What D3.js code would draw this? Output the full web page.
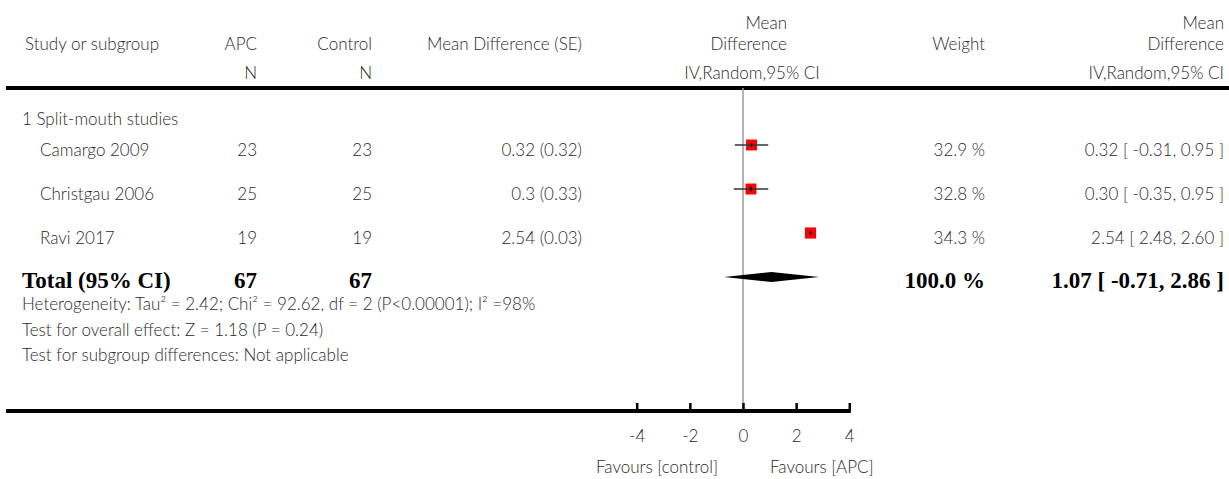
<!DOCTYPE html>
<html><head><meta charset="utf-8">
<script src="https://cdn.jsdelivr.net/npm/d3@7"></script>
<style>
html,body{margin:0;padding:0;background:#fff;}
svg{display:block;background:#fff;}
.t{font-family:"Lato","Open Sans",sans-serif;font-weight:300;font-size:17px;fill:#2a2a2a;}
.b{font-family:"Liberation Serif","Times New Roman",serif;font-weight:bold;font-size:23px;fill:#000;}
</style></head><body>
<svg id="chart" width="1229" height="479"></svg>
<script>
// Study-level data
const studies   = ["Camargo 2009", "Christgau 2006", "Ravi 2017"];
const apcN      = [23, 25, 19];
const controlN  = [23, 25, 19];
const meanDiff  = [0.32, 0.3, 2.54];
const stdErr    = [0.32, 0.33, 0.03];
const ciLow     = [-0.31, -0.35, 2.48];
const ciHigh    = [0.95, 0.95, 2.60];
const weights   = [32.9, 32.8, 34.3];

// Pooled (random effects) result
const totalN      = [67, 67];
const totalMD     = 1.07;
const totalLow    = -0.71;
const totalHigh   = 2.86;
const totalWeight = 100.0;

const axisTicks = [-4, -2, 0, 2, 4];
const subgroupTitle = "1 Split-mouth studies";
const footNotes = [
  "Heterogeneity: Tau\u00B2 = 2.42; Chi\u00B2 = 92.62, df = 2 (P<0.00001); I\u00B2 =98%",
  "Test for overall effect: Z = 1.18 (P = 0.24)",
  "Test for subgroup differences: Not applicable"
];
const favourLabels = ["Favours [control]", "Favours [APC]"];

const svg = d3.select("#chart");

// Column anchors
const col = { study: 40, group: 22, apc: 257, ctrl: 372, mdse: 582, weight: 985, ci: 1224 };

// Forest-plot scale
const x = d3.scaleLinear().domain([-4, 4]).range([636.7, 849.3]);
const rowY = d3.scalePoint().domain([...studies, "Total"]).range([145, 277]);
const axisY = 411;
const textOff = 11; // text baseline below row centre

function txt(s, px, py, anchor, cls) {
  return svg.append("text").attr("class", cls || "t")
    .attr("x", px).attr("y", py).attr("text-anchor", anchor || "start").text(s);
}

// Header
txt("Study or subgroup", 25, 50);
txt("APC", col.apc, 50, "end");
txt("N", col.apc, 79, "end");
txt("Control", col.ctrl, 50, "end");
txt("N", col.ctrl, 79, "end");
txt("Mean Difference (SE)", col.mdse, 50, "end");
txt("Mean", 787, 29, "end");
txt("Difference", 787, 50, "end");
txt("IV,Random,95% CI", 752, 79, "middle");
txt("Weight", col.weight, 50, "end");
txt("Mean", col.ci, 29, "end");
txt("Difference", col.ci, 50, "end");
txt("IV,Random,95% CI", col.ci, 79, "end");

svg.append("line").attr("x1", 6).attr("x2", 1229).attr("y1", 88).attr("y2", 88)
  .attr("stroke", "#000").attr("stroke-width", 4);

// Line of no effect
svg.append("line").attr("x1", x(0)).attr("x2", x(0)).attr("y1", 88).attr("y2", axisY)
  .attr("stroke", "#9a9a9a").attr("stroke-width", 1.5);

txt(subgroupTitle, col.group, 125);

// Study rows
const rows = studies.map((s, i) => ({
  name: s, apc: apcN[i], ctrl: controlN[i], md: meanDiff[i], se: stdErr[i],
  lo: ciLow[i], hi: ciHigh[i], w: weights[i]
}));

const g = svg.selectAll("g.row").data(rows).join("g").attr("class", "row");
const by = d => rowY(d.name) + textOff;
g.append("text").attr("class", "t").attr("x", col.study).attr("y", by).text(d => d.name);
g.append("text").attr("class", "t").attr("x", col.apc).attr("y", by).attr("text-anchor", "end").text(d => d.apc);
g.append("text").attr("class", "t").attr("x", col.ctrl).attr("y", by).attr("text-anchor", "end").text(d => d.ctrl);
g.append("text").attr("class", "t").attr("x", col.mdse).attr("y", by).attr("text-anchor", "end")
  .text(d => `${d.md} (${d.se.toFixed(2)})`);
g.append("text").attr("class", "t").attr("x", col.weight).attr("y", by).attr("text-anchor", "end")
  .text(d => `${d.w.toFixed(1)} %`);
g.append("text").attr("class", "t").attr("x", col.ci).attr("y", by).attr("text-anchor", "end")
  .text(d => `${d.md.toFixed(2)} [ ${d.lo.toFixed(2)}, ${d.hi.toFixed(2)} ]`);

// Weight-scaled squares, CI whiskers and estimate tick
const side = w => 11 * Math.sqrt(w / 33.3);
g.append("rect")
  .attr("x", d => x(d.md) - side(d.w) / 2).attr("y", d => rowY(d.name) - side(d.w) / 2)
  .attr("width", d => side(d.w)).attr("height", d => side(d.w)).attr("fill", "#ff0000");
g.append("line")
  .attr("x1", d => x(d.lo)).attr("x2", d => x(d.hi))
  .attr("y1", d => rowY(d.name)).attr("y2", d => rowY(d.name))
  .attr("stroke", "#333").attr("stroke-width", 1.6);
g.append("line")
  .attr("x1", d => x(d.md)).attr("x2", d => x(d.md))
  .attr("y1", d => rowY(d.name) - 2.5).attr("y2", d => rowY(d.name) + 2.5)
  .attr("stroke", "#000").attr("stroke-width", 1.2);

// Total row
const ty = rowY("Total");
const tb = ty + 11;
txt("Total (95% CI)", 22, tb, "start", "b");
txt(totalN[0], col.apc, tb, "end", "b");
txt(totalN[1], col.ctrl, tb, "end", "b");
txt(`${totalWeight.toFixed(1)} %`, col.weight, tb, "end", "b");
txt(`${totalMD.toFixed(2)} [ ${totalLow.toFixed(2)}, ${totalHigh.toFixed(2)} ]`, col.ci, tb, "end", "b");

svg.append("path")
  .attr("d", d3.line()([[x(totalLow), ty], [x(totalMD), ty - 5], [x(totalHigh), ty], [x(totalMD), ty + 5]]) + "Z")
  .attr("fill", "#000");

// Footnotes
footNotes.forEach((s, i) => txt(s, col.group, 310 + i * 25.5));

// Bottom rule / x-axis
svg.append("line").attr("x1", 6).attr("x2", x(4) + 1.5).attr("y1", axisY).attr("y2", axisY)
  .attr("stroke", "#000").attr("stroke-width", 4);

const ax = svg.append("g").attr("transform", `translate(0,${axisY})`)
  .call(d3.axisBottom(x).tickValues(axisTicks).tickSize(-8).tickPadding(19).tickFormat(d => String(d)));
ax.select(".domain").remove();
ax.selectAll(".tick line").attr("stroke", "#000").attr("stroke-width", 2.5);
ax.selectAll(".tick text").attr("class", "t").attr("font-family", null).attr("font-size", null).attr("fill", null);

txt(favourLabels[0], x(0) - 25, 473, "end");
txt(favourLabels[1], x(0) + 27, 473, "start");
</script>
</body></html>
